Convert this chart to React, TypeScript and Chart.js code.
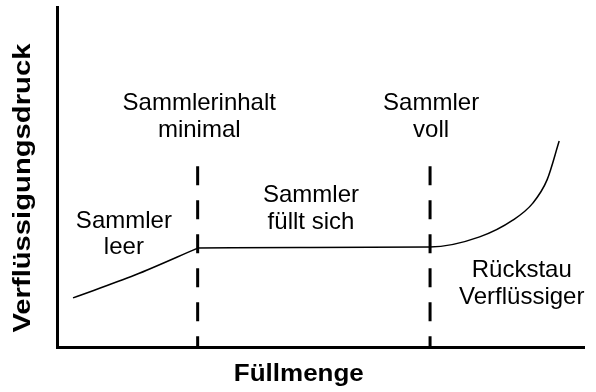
import React, { useEffect, useRef } from "react";
import { Chart, registerables } from "chart.js";

Chart.register(...registerables);

// Curve: rising part while the receiver is empty
const riseFill = [2.85, 14.6, 26.5];
const risePressure = [14.4, 21.1, 29.0];
// Curve: receiver filling, then condenser backing up
const mainFill = [26.5, 46, 70.5, 80, 86.3, 90.1, 92.8, 95.1];
const mainPressure = [29.0, 29.2, 29.3, 32.3, 37.2, 42.2, 49.0, 60.4];
// Dashed boundaries (minimal content / receiver full)
const boundaryFill = [26.5, 70.6];
const boundaryTop = 53;
// Region labels
const labelTexts = [
  ["Sammler", "leer"],
  ["Sammlerinhalt", "minimal"],
  ["Sammler", "füllt sich"],
  ["Sammler", "voll"],
  ["Rückstau", "Verflüssiger"],
];
const labelFill = [12.5, 26.8, 48, 70.8, 88];
const labelPressure = [34.9, 69.5, 42.5, 69.5, 20.5];
const xTitle = "Füllmenge";
const yTitle = "Verflüssigungsdruck";

const FONT = '"Liberation Sans", Arial, sans-serif';

const overlay = {
  id: "overlay",
  beforeDatasetsDraw(chart: any) {
    const { ctx, chartArea } = chart;
    ctx.save();
    ctx.strokeStyle = "#000";
    ctx.lineWidth = 3;
    ctx.setLineDash([]);
    ctx.beginPath();
    ctx.moveTo(chartArea.left - 0.5, chartArea.top);
    ctx.lineTo(chartArea.left - 0.5, chartArea.bottom + 2);
    ctx.moveTo(chartArea.left - 2, chartArea.bottom + 0.5);
    ctx.lineTo(chartArea.right, chartArea.bottom + 0.5);
    ctx.stroke();
    ctx.restore();
  },
  afterDatasetsDraw(chart: any) {
    const { ctx, scales } = chart;
    const xs = scales.x;
    const ys = scales.y;
    ctx.save();
    ctx.fillStyle = "#000";
    ctx.textAlign = "center";
    ctx.textBaseline = "alphabetic";
    ctx.font = `24px ${FONT}`;
    labelTexts.forEach((lines, i) => {
      const cx = xs.getPixelForValue(labelFill[i]);
      const by = ys.getPixelForValue(labelPressure[i]);
      lines.forEach((t, j) => ctx.fillText(t, cx, by + j * 26.5));
    });
    ctx.font = `bold 23px ${FONT}`;
    ctx.save();
    ctx.translate(xs.getPixelForValue(45.7), 381);
    ctx.scale(1.13, 1);
    ctx.fillText(xTitle, 0, 0);
    ctx.restore();
    ctx.save();
    ctx.translate(30, ys.getPixelForValue(46.6));
    ctx.rotate(-Math.PI / 2);
    ctx.scale(1.27, 1);
    ctx.fillText(yTitle, 0, 0);
    ctx.restore();
    ctx.restore();
  },
};

export default function App() {
  const ref = useRef<HTMLCanvasElement>(null);
  useEffect(() => {
    if (!ref.current) return;
    const boundaryDatasets = boundaryFill.map((x) => ({
      data: [
        { x, y: boundaryTop },
        { x, y: 0 },
      ],
      borderColor: "#000",
      borderWidth: 3,
      borderDash: [19, 15],
      pointRadius: 0,
      tension: 0,
    }));
    const chart = new Chart(ref.current, {
      type: "line",
      data: {
        datasets: [
          {
            data: riseFill.map((x, i) => ({ x, y: risePressure[i] })),
            borderColor: "#000",
            borderWidth: 1.5,
            pointRadius: 0,
            cubicInterpolationMode: "monotone",
          },
          {
            data: mainFill.map((x, i) => ({ x, y: mainPressure[i] })),
            borderColor: "#000",
            borderWidth: 1.5,
            pointRadius: 0,
            cubicInterpolationMode: "monotone",
          },
          ...boundaryDatasets,
        ],
      } as any,
      options: {
        animation: false,
        responsive: false,
        layout: { padding: { left: 58, right: 11, top: 6, bottom: 45 } },
        scales: {
          x: { type: "linear", min: 0, max: 100, display: false },
          y: { type: "linear", min: 0, max: 100, display: false },
        },
        plugins: { legend: { display: false }, tooltip: { enabled: false } },
      } as any,
      plugins: [overlay],
    });
    return () => chart.destroy();
  }, []);
  return (
    <div style={{ position: "fixed", left: 0, top: 0, width: 596, height: 392, background: "#fff" }}>
      <canvas ref={ref} width={596} height={392} style={{ display: "block" }} />
    </div>
  );
}
